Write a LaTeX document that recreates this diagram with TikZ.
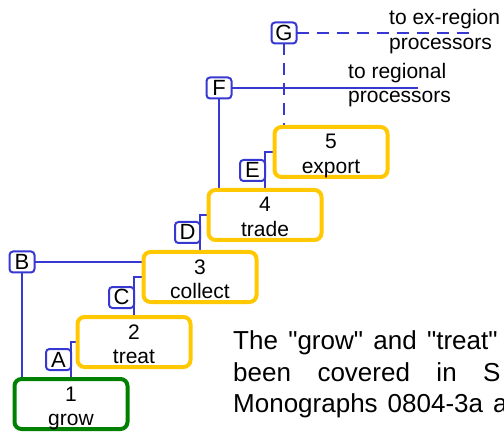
\documentclass[tikz,border=0pt]{standalone}
\usepackage{fontspec}
\setmainfont{Liberation Sans}
\newfontfamily\plainsans{Liberation Sans}
\usetikzlibrary{backgrounds}
\definecolor{boxyellow}{RGB}{255,200,0}
\definecolor{boxgreen}{RGB}{0,128,0}
\definecolor{linkblue}{RGB}{55,55,210}
\begin{document}
\begin{tikzpicture}[x=1pt,y=-1pt,
  stage/.style={draw=boxyellow, line width=4pt, rounded corners=7pt, minimum width=113pt, minimum height=50pt, inner sep=0pt, outer sep=0pt},
  firststage/.style={stage, draw=boxgreen},
  stagetxt/.style={font=\plainsans\fontsize{21}{24}\selectfont, inner sep=0pt, anchor=base},
  tag/.style={draw=linkblue, line width=2pt, rounded corners=3.5pt, minimum width=25pt, minimum height=21pt, inner sep=0pt, text height=18pt, text depth=3pt, outer sep=0pt, font=\plainsans\fontsize{22}{24}\selectfont},
  link/.style={draw=linkblue, line width=1.5pt},
  dlink/.style={link, dash pattern=on 12pt off 8pt},
  note/.style={font=\plainsans\fontsize{21}{24}\selectfont, inner sep=0pt, anchor=base west},
  para/.style={font=\plainsans\fontsize{26}{32}\selectfont, inner sep=0pt, anchor=base west}
]
\useasboundingbox (0,0) rectangle (504,433);
\clip (0,0) rectangle (504,433);

% stages
\node[firststage] (b1) at (71,404) {};
\node[stage] (b2) at (134,342) {};
\node[stage] (b3) at (200,277) {};
\node[stage] (b4) at (265,215) {};
\node[stage] (b5) at (331,152) {};

\node[stagetxt] (n1) at ([yshift=3pt]b1.center) {1};
\node[stagetxt] (w1) at ([yshift=-21.5pt]b1.center) {grow};
\node[stagetxt] (n2) at ([yshift=3pt]b2.center) {2};
\node[stagetxt] (w2) at ([yshift=-21.5pt]b2.center) {treat};
\node[stagetxt] (n3) at ([yshift=3pt]b3.center) {3};
\node[stagetxt] (w3) at ([yshift=-21.5pt]b3.center) {collect};
\node[stagetxt] (n4) at ([yshift=3pt]b4.center) {4};
\node[stagetxt] (w4) at ([yshift=-21.5pt]b4.center) {trade};
\node[stagetxt] (n5) at ([yshift=3pt]b5.center) {5};
\node[stagetxt] (w5) at ([yshift=-21.5pt]b5.center) {export};

% tags
\node[tag, anchor=south east] (la) at ([yshift=9pt]b1.north) {A};
\node[tag, anchor=south east] (lc) at ([yshift=9pt]b2.north) {C};
\node[tag, anchor=south east] (ld) at ([yshift=9pt]b3.north) {D};
\node[tag, anchor=south east] (le) at ([yshift=9pt]b4.north) {E};
\node[tag] (lb) at (22,262) {B};
\node[tag] (lf) at (219,88) {F};
\node[tag] (lg) at (284,33) {G};

\coordinate (fend) at (418,88);
\coordinate (gend) at (469,33);

\begin{scope}[on background layer]
  \draw[link] (b1.north) |- (b2.west);
  \draw[link] (b2.north) |- (b3.west);
  \draw[link] (b3.north) |- (b4.west);
  \draw[link] (b4.north) |- (b5.west);
  \draw[link] (lb.east) -- (lb.east -| b3.west);
  \draw[link] (lb.south) -- (lb.south |- b1.north);
  \draw[link] (lf.east) -- (fend);
  \draw[link] (lf.south) -- (lf.south |- b4.north);
  \draw[dlink] (lg.east) -- (gend);
  \draw[dlink] (lg.south) -- (lg.south |- b5.north);
\end{scope}

% outlet labels
\node[note] (t1a) at (389,25) {to ex-region};
\node[note] (t1b) at (389,49.5) {processors};
\node[note] (t2a) at (348,78.5) {to regional};
\node[note] (t2b) at (348,102.5) {processors};

% paragraph
\node[para] (p1) at (233,349) {\spaceskip=10.3pt The "grow" and "treat"};
\node[para] (p2) at (233,381.5) {\spaceskip=26.5pt been covered in S};
\node[para] (p3) at (233,412.5) {\spaceskip=10pt Monographs 0804-3a a};
\end{tikzpicture}
\end{document}
